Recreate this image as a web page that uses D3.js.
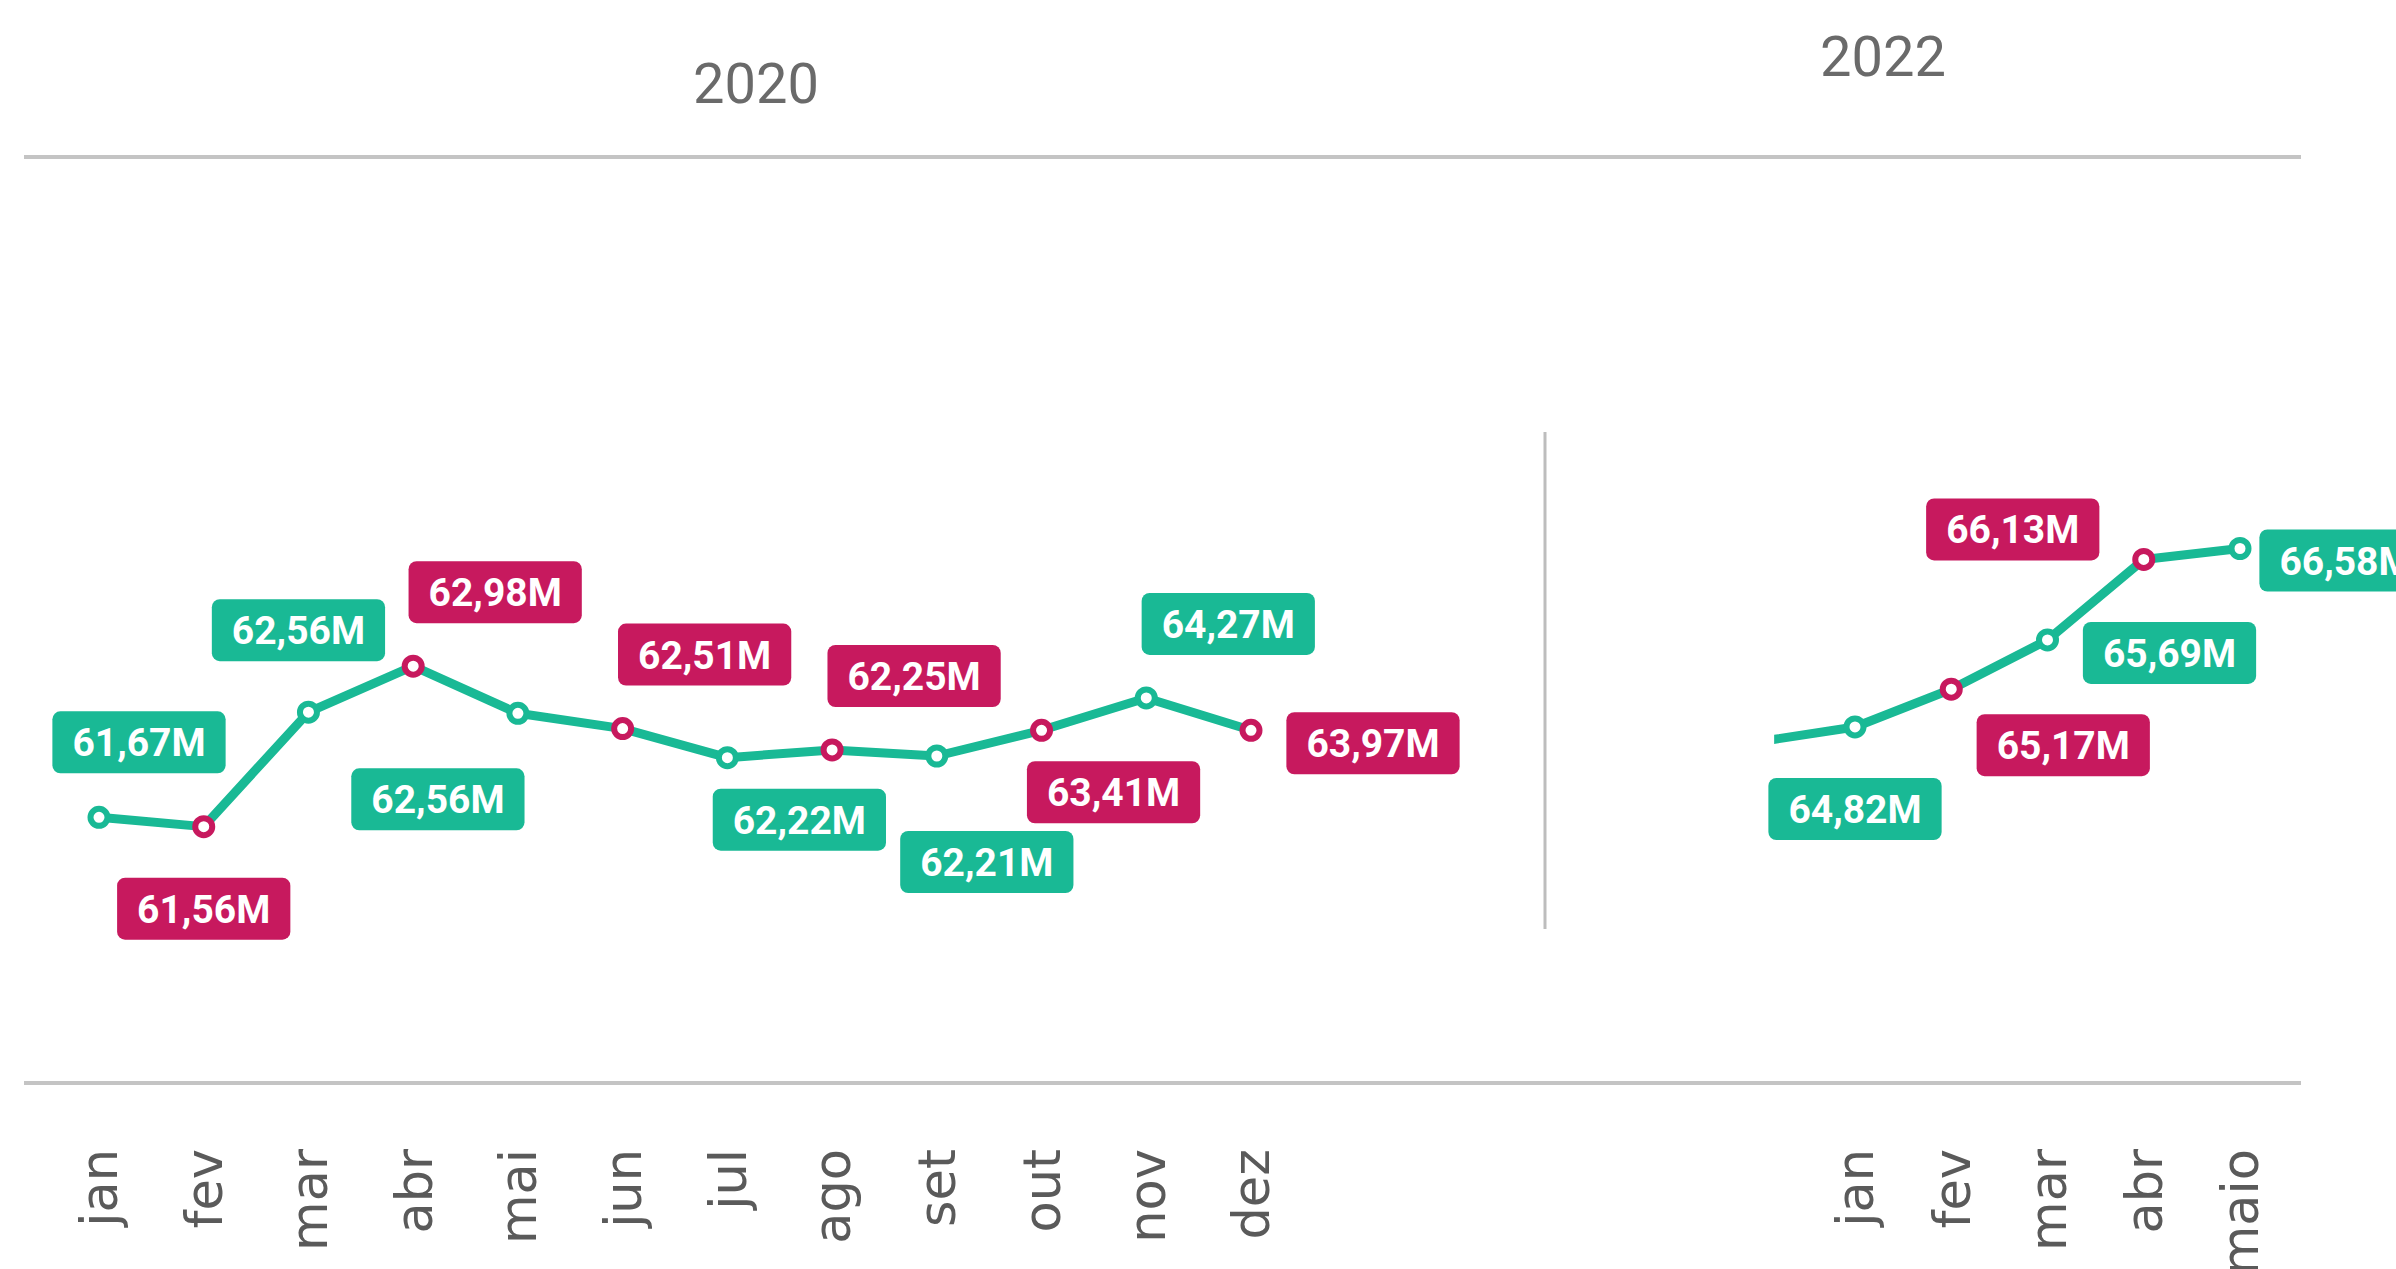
<!DOCTYPE html>
<html>
<head>
<meta charset="utf-8">
<script src="https://cdn.jsdelivr.net/npm/d3@7"></script>
<style>
  html, body { margin: 0; padding: 0; background: #fff; }
  svg { display: block; }
</style>
</head>
<body>
<svg id="chart" width="2396" height="1269"></svg>
<script>
// ---------- DATA ----------
const years = ["2020", "2022"];

const months2020 = ["jan","fev","mar","abr","mai","jun","jul","ago","set","out","nov","dez"];
// plotted line (same units as the labels)
const line2020   = [61.67, 61.50, 63.59, 64.43, 63.57, 63.29, 62.76, 62.90, 62.79, 63.26, 63.85, 63.26];
// values shown in the label boxes
const labels2020 = [61.67, 61.56, 62.56, 62.98, 62.56, 62.51, 62.22, 62.25, 62.21, 63.41, 64.27, 63.97];
const kind2020   = ["verde","rosa","verde","rosa","verde","rosa","verde","rosa","verde","rosa","verde","rosa"];
const place2020  = ["nne","s","n","ne","sw","ne","se","ne","sse","se","ne","e"];

const months2022 = ["jan","fev","mar","abr","maio"];
const prev2022   = 63.05;   // dez/2021, only partly visible at the left of the panel
const line2022   = [63.32, 64.01, 64.91, 66.38, 66.58];
const labels2022 = [64.82, 65.17, 65.69, 66.13, 66.58];
const kind2022   = ["verde","rosa","verde","rosa","verde"];
const place2022  = ["s","ese","e","nw","er"];

// ---------- STYLE ----------
const W = 2396, H = 1269;
const colors = { verde: "#19b995", rosa: "#c7195e" };
const lineColor = "#19b995";
const ruleColor = "#c4c4c4";
const offsets = {
  n: [-10, -82], nne: [40, -75], ne: [82, -74], s: [0, 82], sw: [-80, 86],
  se: [72, 62], sse: [50, 106], ese: [112, 56], e: [122, 13], er: [106, 12], nw: [-131, -30]
};
const fmt = v => d3.format(".2f")(v).replace(".", ",") + "M";

const svg = d3.select("#chart");
svg.append("rect").attr("width", W).attr("height", H).attr("fill", "#fff");

// scales
const y = d3.scaleLinear().domain([61, 67]).range([854, 525.5]);
const x2020 = d3.scalePoint().domain(months2020).range([99, 1251]);
const x2022 = d3.scalePoint().domain(months2022).range([1855, 2240]);

// horizontal rules and separator
svg.append("line").attr("x1", 24).attr("x2", 2301).attr("y1", 157).attr("y2", 157)
  .attr("stroke", ruleColor).attr("stroke-width", 4);
svg.append("line").attr("x1", 24).attr("x2", 2301).attr("y1", 1083).attr("y2", 1083)
  .attr("stroke", ruleColor).attr("stroke-width", 4);
svg.append("line").attr("x1", 1545).attr("x2", 1545).attr("y1", 432).attr("y2", 929)
  .attr("stroke", "#bdbdbd").attr("stroke-width", 3);

// year titles
const titlePos = [[756, 103], [1883, 76]];
svg.selectAll("text.year").data(years).join("text")
  .attr("class", "year")
  .attr("x", (d, i) => titlePos[i][0]).attr("y", (d, i) => titlePos[i][1])
  .attr("text-anchor", "middle")
  .attr("font-family", "Roboto, 'Open Sans', sans-serif")
  .attr("font-size", 56).attr("fill", "#6a6a6a")
  .text(d => d);

// month tick labels (rotated)
function monthAxis(scale, months) {
  const g = svg.append("g");
  g.selectAll("text").data(months).join("text")
    .attr("transform", d => `translate(${scale(d)},1149) rotate(-90)`)
    .attr("text-anchor", "end")
    .attr("dy", "0.36em")
    .attr("font-family", "'DejaVu Sans', Verdana, sans-serif")
    .attr("font-size", 51).attr("fill", "#5a5a5a")
    .text(d => d);
}
monthAxis(x2020, months2020);
monthAxis(x2022, months2022);

// clip for the 2022 panel (line enters from the previous month)
const step22 = x2022.step();
svg.append("clipPath").attr("id", "clip22")
  .append("rect")
  .attr("x", x2022(months2022[0]) - step22 * 0.84).attr("y", 0)
  .attr("width", W).attr("height", H);

function panel(scale, months, lineVals, labelVals, kinds, places, prev) {
  const pts = months.map((m, i) => ({ x: scale(m), y: y(lineVals[i]), lab: labelVals[i], kind: kinds[i], place: places[i] }));
  const linePts = pts.map(p => [p.x, p.y]);
  const g = svg.append("g");
  const path = d3.line();
  if (prev !== undefined) {
    const full = [[scale(months[0]) - scale.step(), y(prev)]].concat(linePts);
    g.append("path").attr("d", path(full)).attr("clip-path", "url(#clip22)")
      .attr("fill", "none").attr("stroke", lineColor).attr("stroke-width", 9)
      .attr("stroke-linejoin", "round");
  } else {
    g.append("path").attr("d", path(linePts))
      .attr("fill", "none").attr("stroke", lineColor).attr("stroke-width", 9)
      .attr("stroke-linejoin", "round").attr("stroke-linecap", "round");
  }
  g.selectAll("circle").data(pts).join("circle")
    .attr("cx", d => d.x).attr("cy", d => d.y).attr("r", 8.5)
    .attr("fill", "#fff").attr("stroke", d => colors[d.kind]).attr("stroke-width", 6);

  const lg = g.selectAll("g.lab").data(pts).join("g")
    .attr("class", "lab")
    .attr("transform", d => `translate(${d.x + offsets[d.place][0]},${d.y + offsets[d.place][1]})`);
  const rects = lg.append("rect");
  const texts = lg.append("text")
    .attr("text-anchor", "middle").attr("dy", "0.36em")
    .attr("font-family", "Roboto, 'Open Sans', sans-serif")
    .attr("font-weight", 700).attr("font-size", 39).attr("fill", "#fff")
    .text(d => fmt(d.lab));
  texts.each(function (d) { d.tw = this.getComputedTextLength(); });
  rects.attr("x", d => -(d.tw + 40) / 2).attr("y", -31)
    .attr("width", d => d.tw + 40).attr("height", 62)
    .attr("rx", 8).attr("fill", d => colors[d.kind]);
}

panel(x2020, months2020, line2020, labels2020, kind2020, place2020);
panel(x2022, months2022, line2022, labels2022, kind2022, place2022, prev2022);
</script>
</body>
</html>
